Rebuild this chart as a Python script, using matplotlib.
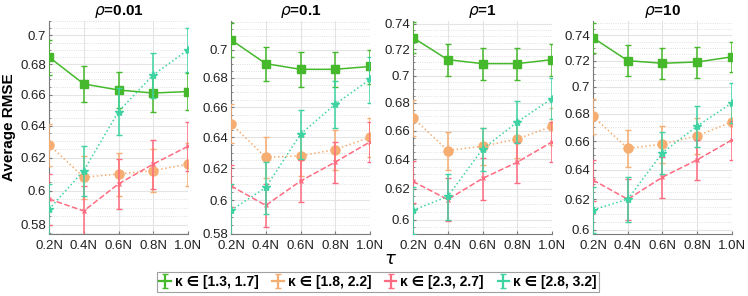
import numpy as np
import matplotlib
matplotlib.use("Agg")
import matplotlib.pyplot as plt
from matplotlib.ticker import FixedLocator, FuncFormatter, NullFormatter

plt.rcParams['font.family'] = ['Liberation Sans', 'DejaVu Sans']

# ==========================================
# DATOS
# ==========================================
x_vals = [0.2, 0.4, 0.6, 0.8, 1.0]
x_labels = ['0.2N', '0.4N', '0.6N', '0.8N', '1.0N']
rho_titles = ['0.01', '0.1', '1', '10']
kappa_labels = ['[1.3, 1.7]', '[1.8, 2.2]', '[2.3, 2.7]', '[2.8, 3.2]']

# medias por panel (rho) y por serie (kappa)
rmse_green = [[0.685, 0.667, 0.663, 0.661, 0.662],
              [0.707, 0.690, 0.686, 0.686, 0.688],
              [0.729, 0.712, 0.709, 0.709, 0.712],
              [0.738, 0.720, 0.718, 0.719, 0.723]]
rmse_orange = [[0.628, 0.608, 0.610, 0.612, 0.616],
               [0.649, 0.627, 0.628, 0.632, 0.640],
               [0.669, 0.646, 0.649, 0.654, 0.663],
               [0.678, 0.655, 0.658, 0.664, 0.674]]
rmse_red = [[0.595, 0.588, 0.604, 0.616, 0.627],
            [0.609, 0.597, 0.612, 0.624, 0.637],
            [0.625, 0.613, 0.627, 0.638, 0.652],
            [0.633, 0.620, 0.635, 0.647, 0.661]]
rmse_teal = [[0.589, 0.612, 0.649, 0.673, 0.690],
             [0.594, 0.608, 0.642, 0.662, 0.679],
             [0.606, 0.615, 0.647, 0.666, 0.683],
             [0.613, 0.620, 0.652, 0.671, 0.688]]

err_green = [0.012, 0.012, 0.012, 0.012]
err_orange = [0.013, 0.013, 0.013, 0.013]
err_red = [0.015, 0.013, 0.014, 0.014]
err_teal = [0.015, 0.016, 0.015, 0.015]

y_limits = [(0.5747, 0.710), (0.5798, 0.7207), (0.5908, 0.7421), (0.5972, 0.7515)]
y_ticks = [[0.58, 0.6, 0.62, 0.64, 0.66, 0.68, 0.7],
           [0.58, 0.6, 0.62, 0.64, 0.66, 0.68, 0.7],
           [0.6, 0.62, 0.64, 0.66, 0.68, 0.7, 0.72, 0.74],
           [0.6, 0.62, 0.64, 0.66, 0.68, 0.7, 0.72, 0.74]]

series = [
    (rmse_green, err_green, '#46b82c', '-', 's', 5.5),
    (rmse_orange, err_orange, '#f5ad72', ':', 'o', 6.5),
    (rmse_red, err_red, '#ff6b80', '--', 'x', 3.5),
    (rmse_teal, err_teal, '#3fd3a3', ':', '*', 6),
]

fig = plt.figure(figsize=(7.48, 2.96), dpi=100)
lefts = [49, 231, 413, 593]
handles = []
for p in range(4):
    ax = fig.add_axes([lefts[p] / 748, 1 - 234 / 296, 139 / 748, 213 / 296])
    ax.set_yscale('log')
    for s_i, (vals, errs, col, ls, mk, ms) in enumerate(series):
        ax.errorbar(x_vals, vals[p], yerr=errs[p], color=col, linestyle=ls,
                    marker=mk, markersize=ms, linewidth=1.1, elinewidth=1.1,
                    capsize=2, capthick=1, zorder=3 + s_i)
        if p == 0:
            # entrada de leyenda sin marcador, solo barra de error
            h = ax.errorbar([np.nan], [np.nan], yerr=[0.01], color=col, linestyle='-',
                            linewidth=1.6, elinewidth=1.6, capsize=2, capthick=1)
            handles.append(h)
    ax.set_xlim(0.2, 1.0)
    ax.set_ylim(*y_limits[p])
    ax.xaxis.set_major_locator(FixedLocator(x_vals))
    ax.set_xticklabels(x_labels)
    ax.yaxis.set_major_locator(FixedLocator(y_ticks[p]))
    ax.yaxis.set_major_formatter(FuncFormatter(lambda v, pos: f'{v:g}'))
    mins = np.arange(0.575, 0.755, 0.005)
    ax.yaxis.set_minor_locator(FixedLocator(mins))
    ax.yaxis.set_minor_formatter(NullFormatter())
    ax.grid(which='major', color='#e4e4e4', linewidth=0.8, linestyle='-')
    ax.grid(which='minor', axis='y', color='#d8d8d8', linewidth=0.6, linestyle=':')
    ax.set_axisbelow(True)
    for sp in ['top', 'right']:
        ax.spines[sp].set_visible(False)
    for sp in ['left', 'bottom']:
        ax.spines[sp].set_color('#7a7a7a')
        ax.spines[sp].set_linewidth(0.8)
    ax.tick_params(which='both', direction='in', colors='#7a7a7a', labelcolor='#222222',
                   labelsize=9.5, length=2.5, pad=2)
    ax.tick_params(axis='x', pad=4.5)
    ax.tick_params(which='minor', length=1.2)
    ax.set_title(r'$\rho$=' + rho_titles[p], fontsize=11, fontweight='bold', pad=4)
    if p == 0:
        ax.set_ylabel('Average RMSE', fontsize=11, fontweight='bold', labelpad=3)

fig.text(390 / 748, 1 - 259 / 296, r'$\tau$', fontsize=13, ha='center', va='center')

leg = fig.legend(handles, ['κ ∈ ' + k for k in kappa_labels], loc='center',
                 bbox_to_anchor=(378 / 748, 1 - 282 / 296), ncol=4, frameon=True,
                 fancybox=False, edgecolor='#888888', handlelength=0.8,
                 handletextpad=0.3, columnspacing=1.0, borderpad=0.2,
                 borderaxespad=0, prop={'weight': 'bold', 'size': 10})
leg.get_frame().set_linewidth(0.8)

plt.savefig('out.png', dpi=100)
